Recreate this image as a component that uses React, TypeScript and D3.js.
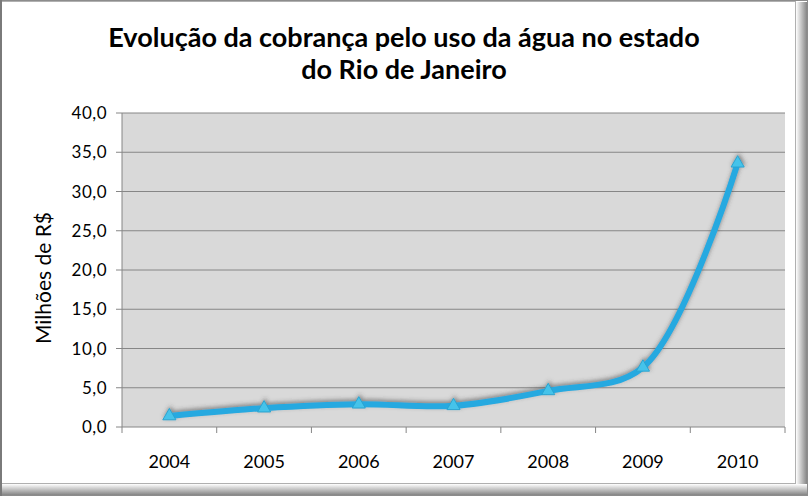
import React from "react";
import * as d3 from "d3";

const years = ["2004", "2005", "2006", "2007", "2008", "2009", "2010"];
const values = [1.4, 2.4, 2.9, 2.7, 4.6, 7.6, 33.6];
const yTicks = [0, 5, 10, 15, 20, 25, 30, 35, 40];
const titleLines = ["Evolução da cobrança pelo uso da água no estado", "do Rio de Janeiro"];
const yTitle = "Milhões de R$";

const W = 808;
const H = 496;
const plot = { left: 122, right: 785, top: 113, bottom: 427 };
const font = "Lato, 'Open Sans', sans-serif";

export default function App() {
  const x = d3.scaleBand().domain(years).range([plot.left, plot.right]);
  const y = d3.scaleLinear().domain([0, 40]).range([plot.bottom, plot.top]);
  const cx = (yr: string) => (x(yr) as number) + x.bandwidth() / 2;

  const line = d3
    .line<number>()
    .x((_, i) => cx(years[i]))
    .y((v) => y(v))
    .curve(d3.curveCatmullRom.alpha(0.5));

  const tri = d3.symbol(d3.symbolTriangle, 75)();
  const fmt = (v: number) => v.toFixed(1).replace(".", ",");

  return (
    <svg width={W} height={H} style={{ position: "absolute", left: 0, top: 0 }}>
      <defs>
        <linearGradient id="shR" x1="0" x2="1" y1="0" y2="0">
          <stop offset="0" stopColor="#ffffff" />
          <stop offset="1" stopColor="#7a7a7a" />
        </linearGradient>
        <linearGradient id="shB" x1="0" x2="0" y1="0" y2="1">
          <stop offset="0" stopColor="#ffffff" />
          <stop offset="1" stopColor="#7a7a7a" />
        </linearGradient>
        <filter id="lineShadow" x="-10%" y="-10%" width="120%" height="120%">
          <feDropShadow dx="1" dy="-2" stdDeviation="2" floodColor="#404040" floodOpacity="0.55" />
        </filter>
      </defs>

      {/* frame */}
      <rect x={0} y={0} width={W} height={H} fill="#ffffff" />
      <rect x={W - 12} y={2} width={12} height={H - 2} fill="url(#shR)" />
      <rect x={2} y={H - 12} width={W - 2} height={12} fill="url(#shB)" />
      <rect x={0.5} y={0.5} width={W - 1} height={H - 1} fill="none" stroke="#8c8c8c" />
      <rect x={1.5} y={1.5} width={W - 14} height={H - 14} fill="none" stroke="#b0b0b0" />
      <line x1={1} x2={1} y1={0} y2={H} stroke="#7a7a7a" strokeWidth={2} />

      {/* title */}
      {titleLines.map((t, i) => (
        <text
          key={t}
          x={404}
          y={47 + i * 32}
          textAnchor="middle"
          fontFamily={font}
          fontWeight="bold"
          fontSize={27}
          fill="#000"
        >
          {t}
        </text>
      ))}

      {/* plot area */}
      <rect x={plot.left} y={plot.top} width={plot.right - plot.left} height={plot.bottom - plot.top} fill="#d9d9d9" />
      {yTicks.map((t) => (
        <g key={t}>
          <line x1={plot.left - 6} x2={plot.right} y1={y(t)} y2={y(t)} stroke="#868686" />
          <text x={107} y={y(t)} dy="0.36em" textAnchor="end" fontFamily={font} fontSize={17} letterSpacing={0.5} fill="#000">
            {fmt(t)}
          </text>
        </g>
      ))}
      <line x1={plot.left} x2={plot.left} y1={plot.top} y2={plot.bottom} stroke="#868686" />
      {years.concat("").map((yr, i) => {
        const xp = plot.left + i * x.bandwidth();
        return <line key={"t" + i} x1={xp} x2={xp} y1={plot.bottom} y2={plot.bottom + 6} stroke="#868686" />;
      })}
      {years.map((yr) => (
        <text key={yr} x={cx(yr)} y={468} textAnchor="middle" fontFamily={font} fontSize={18} fill="#000">
          {yr}
        </text>
      ))}

      <text
        transform={`translate(51,${(plot.top + plot.bottom) / 2 + 8}) rotate(-90)`}
        textAnchor="middle"
        fontFamily={font}
        fontSize={21}
        fill="#000"
      >
        {yTitle}
      </text>

      {/* series */}
      <g filter="url(#lineShadow)">
        <path d={line(values) || ""} fill="none" stroke="#25a9e0" strokeWidth={6} strokeLinecap="round" />
        {values.map((v, i) => (
          <path
            key={i}
            d={tri || ""}
            transform={`translate(${cx(years[i])},${y(v)})`}
            fill="#45c3ea"
            stroke="#2aa4d0"
            strokeWidth={1}
          />
        ))}
      </g>
    </svg>
  );
}
